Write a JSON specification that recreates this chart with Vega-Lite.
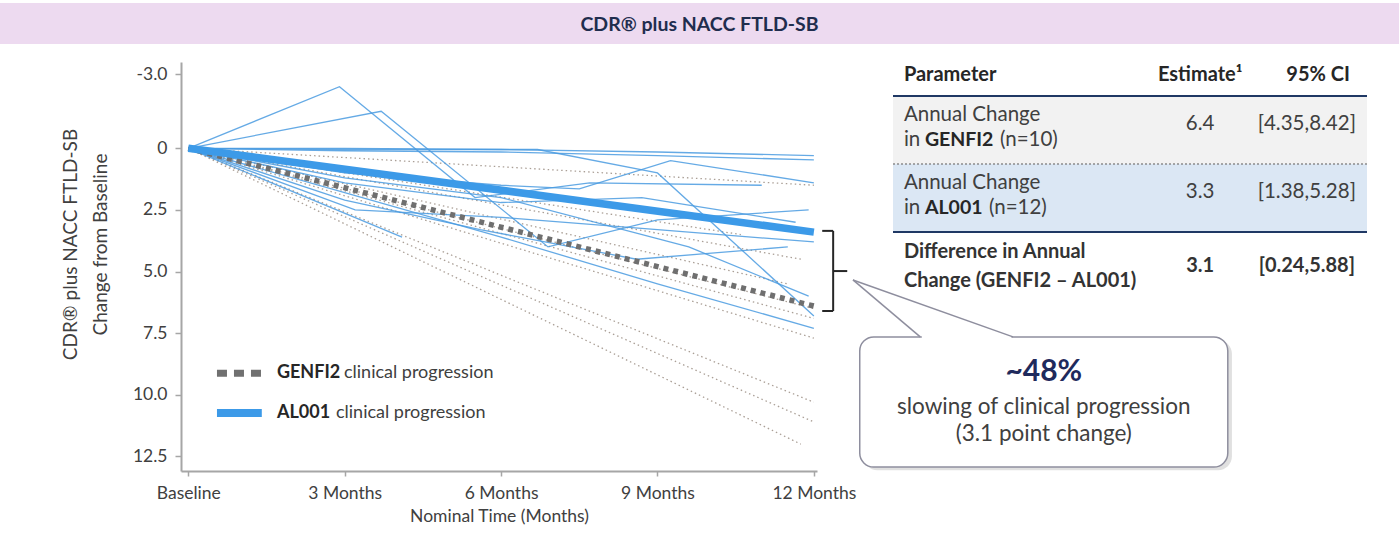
{
  "$schema": "https://vega.github.io/schema/vega-lite/v6.json",
  "background": "white",
  "padding": {"left": 0, "top": 3, "right": 0, "bottom": 0},
  "config": {"view": {"stroke": null}, "font": "Lato"},
  "datasets": {
    "series": [
      {"id": "g1", "group": "GENFI2 patient", "month": 0, "value": 0},
      {"id": "g1", "group": "GENFI2 patient", "month": 12, "value": 1.5},
      {"id": "g2", "group": "GENFI2 patient", "month": 0, "value": 0},
      {"id": "g2", "group": "GENFI2 patient", "month": 10.6, "value": 3.5},
      {"id": "g3", "group": "GENFI2 patient", "month": 0, "value": 0},
      {"id": "g3", "group": "GENFI2 patient", "month": 11.75, "value": 4.5},
      {"id": "g4", "group": "GENFI2 patient", "month": 0, "value": 0},
      {"id": "g4", "group": "GENFI2 patient", "month": 11.5, "value": 5.5},
      {"id": "g5", "group": "GENFI2 patient", "month": 0, "value": 0},
      {"id": "g5", "group": "GENFI2 patient", "month": 12, "value": 6.5},
      {"id": "g6", "group": "GENFI2 patient", "month": 0, "value": 0},
      {"id": "g6", "group": "GENFI2 patient", "month": 12, "value": 6.9},
      {"id": "g7", "group": "GENFI2 patient", "month": 0, "value": 0},
      {"id": "g7", "group": "GENFI2 patient", "month": 12, "value": 7.7},
      {"id": "g8", "group": "GENFI2 patient", "month": 0, "value": 0},
      {"id": "g8", "group": "GENFI2 patient", "month": 12, "value": 10.3},
      {"id": "g9", "group": "GENFI2 patient", "month": 0, "value": 0},
      {"id": "g9", "group": "GENFI2 patient", "month": 12, "value": 11.1},
      {"id": "g10", "group": "GENFI2 patient", "month": 0, "value": 0},
      {"id": "g10", "group": "GENFI2 patient", "month": 11.75, "value": 12.0},

      {"id": "a1", "group": "AL001 patient", "month": 0, "value": 0},
      {"id": "a1", "group": "AL001 patient", "month": 3, "value": 0},
      {"id": "a1", "group": "AL001 patient", "month": 6, "value": 0.05},
      {"id": "a1", "group": "AL001 patient", "month": 9, "value": 0.15},
      {"id": "a1", "group": "AL001 patient", "month": 12, "value": 0.3},
      {"id": "a2", "group": "AL001 patient", "month": 0, "value": 0},
      {"id": "a2", "group": "AL001 patient", "month": 3, "value": 0.05},
      {"id": "a2", "group": "AL001 patient", "month": 6.7, "value": 0.05},
      {"id": "a2", "group": "AL001 patient", "month": 9, "value": 1.0},
      {"id": "a2", "group": "AL001 patient", "month": 12, "value": 6.8},
      {"id": "a3", "group": "AL001 patient", "month": 0, "value": 0},
      {"id": "a3", "group": "AL001 patient", "month": 3, "value": 0.1},
      {"id": "a3", "group": "AL001 patient", "month": 6, "value": 0.15},
      {"id": "a3", "group": "AL001 patient", "month": 9, "value": 0.3},
      {"id": "a3", "group": "AL001 patient", "month": 12, "value": 0.47},
      {"id": "a4", "group": "AL001 patient", "month": 0, "value": 0},
      {"id": "a4", "group": "AL001 patient", "month": 2.9, "value": -2.5},
      {"id": "a4", "group": "AL001 patient", "month": 5.5, "value": 2.0},
      {"id": "a4", "group": "AL001 patient", "month": 7.7, "value": 1.4},
      {"id": "a4", "group": "AL001 patient", "month": 11, "value": 1.5},
      {"id": "a5", "group": "AL001 patient", "month": 0, "value": 0},
      {"id": "a5", "group": "AL001 patient", "month": 3.7, "value": -1.5},
      {"id": "a5", "group": "AL001 patient", "month": 6.9, "value": 4.0},
      {"id": "a5", "group": "AL001 patient", "month": 9, "value": 2.9},
      {"id": "a5", "group": "AL001 patient", "month": 11.9, "value": 2.5},
      {"id": "a6", "group": "AL001 patient", "month": 0, "value": 0},
      {"id": "a6", "group": "AL001 patient", "month": 3, "value": 1.0},
      {"id": "a6", "group": "AL001 patient", "month": 6, "value": 1.5},
      {"id": "a6", "group": "AL001 patient", "month": 7.5, "value": 1.65},
      {"id": "a6", "group": "AL001 patient", "month": 9.25, "value": 0.5},
      {"id": "a6", "group": "AL001 patient", "month": 12, "value": 1.4},
      {"id": "a7", "group": "AL001 patient", "month": 0, "value": 0},
      {"id": "a7", "group": "AL001 patient", "month": 3, "value": 1.4},
      {"id": "a7", "group": "AL001 patient", "month": 6, "value": 2.2},
      {"id": "a7", "group": "AL001 patient", "month": 8.7, "value": 2.0},
      {"id": "a7", "group": "AL001 patient", "month": 11.65, "value": 3.0},
      {"id": "a8", "group": "AL001 patient", "month": 0, "value": 0},
      {"id": "a8", "group": "AL001 patient", "month": 3, "value": 1.2},
      {"id": "a8", "group": "AL001 patient", "month": 6, "value": 2.0},
      {"id": "a8", "group": "AL001 patient", "month": 9.6, "value": 4.0},
      {"id": "a8", "group": "AL001 patient", "month": 11.9, "value": 6.0},
      {"id": "a9", "group": "AL001 patient", "month": 0, "value": 0},
      {"id": "a9", "group": "AL001 patient", "month": 3, "value": 2.1},
      {"id": "a9", "group": "AL001 patient", "month": 5.6, "value": 3.3},
      {"id": "a9", "group": "AL001 patient", "month": 8.6, "value": 4.5},
      {"id": "a9", "group": "AL001 patient", "month": 11.5, "value": 4.0},
      {"id": "a10", "group": "AL001 patient", "month": 0, "value": 0},
      {"id": "a10", "group": "AL001 patient", "month": 4.1, "value": 3.6},
      {"id": "a11", "group": "AL001 patient", "month": 0, "value": 0},
      {"id": "a11", "group": "AL001 patient", "month": 3, "value": 1.8},
      {"id": "a11", "group": "AL001 patient", "month": 6, "value": 3.6},
      {"id": "a11", "group": "AL001 patient", "month": 9, "value": 5.5},
      {"id": "a11", "group": "AL001 patient", "month": 12, "value": 7.3},
      {"id": "a12", "group": "AL001 patient", "month": 0, "value": 0},
      {"id": "a12", "group": "AL001 patient", "month": 3.2, "value": 2.5},
      {"id": "a12", "group": "AL001 patient", "month": 6, "value": 2.8},
      {"id": "a12", "group": "AL001 patient", "month": 9, "value": 3.3},
      {"id": "a12", "group": "AL001 patient", "month": 12, "value": 3.8},

      {"id": "gm", "group": "GENFI2 mean", "month": 0, "value": 0},
      {"id": "gm", "group": "GENFI2 mean", "month": 12, "value": 6.4},
      {"id": "am", "group": "AL001 mean", "month": 0, "value": 0},
      {"id": "am", "group": "AL001 mean", "month": 12, "value": 3.4}
    ],
    "table": [
      {"row": "GENFI2", "upper": "G1", "lower": "G2", "line1": "Annual Change", "pre": "in", "name": "GENFI2", "post": "(n=10)", "estimate": "6.4", "ci": "[4.35,8.42]"},
      {"row": "AL001", "upper": "A1", "lower": "A2", "line1": "Annual Change", "pre": "in", "name": "AL001", "post": "(n=12)", "estimate": "3.3", "ci": "[1.38,5.28]"},
      {"row": "Difference", "upper": "D1", "lower": "D2", "line1": "Difference in Annual", "line2": "Change (GENFI2 \u2013 AL001)", "estimate": "3.1", "ci": "[0.24,5.88]"}
    ]
  },
  "spacing": 18,
  "bounds": "flush",
  "vconcat": [
    {
      "width": 1399,
      "height": 41,
      "view": {"fill": "#eddaf0", "stroke": null},
      "data": {"values": [{"title": "CDR\u00ae plus NACC FTLD-SB"}]},
      "mark": {"type": "text", "fontSize": 19.5, "fontWeight": "bold", "color": "#1f2d4e", "baseline": "middle", "align": "center", "dy": 1},
      "encoding": {"text": {"field": "title"}}
    },
    {
      "spacing": 0,
      "bounds": "flush",
      "hconcat": [
        {"width": 181, "height": 10, "data": {"values": []}, "mark": "text"},
        {
          "width": 636,
          "height": 409,
          "layer": [
            {
              "data": {"name": "series"},
              "transform": [{"filter": "datum.group === 'GENFI2 patient'"}],
              "mark": {"type": "line", "color": "#aa9f96", "strokeWidth": 1.3, "strokeDash": [1.5, 3]},
              "encoding": {
                "x": {"field": "month", "type": "quantitative",
                  "scale": {"domain": [-0.14, 12.06], "nice": false, "zero": false},
                  "axis": {"values": [0, 3, 6, 9, 12], "labelExpr": "datum.value === 0 ? 'Baseline' : datum.value + ' Months'",
                    "title": "Nominal Time (Months)", "grid": false, "domainColor": "#a6a6a6", "domainWidth": 2,
                    "tickColor": "#a6a6a6", "tickSize": 5, "tickWidth": 1.5, "labelFontSize": 17.5, "labelColor": "#404040",
                    "labelPadding": 8, "labelFlush": false, "titleFontSize": 17.5, "titleFontWeight": "normal", "titleColor": "#404040", "titlePadding": 6}},
                "y": {"field": "value", "type": "quantitative",
                  "scale": {"domain": [-3.5, 13.09], "reverse": true, "nice": false, "zero": false},
                  "axis": {"values": [-3, 0, 2.5, 5, 7.5, 10, 12.5],
                    "labelExpr": "datum.value === 0 ? '0' : (datum.value < 0 ? '-' : '') + format(abs(datum.value), '.1f')",
                    "title": ["CDR\u00ae plus NACC FTLD-SB", "Change from Baseline"], "grid": false,
                    "domainColor": "#a6a6a6", "domainWidth": 2, "tickColor": "#a6a6a6", "tickSize": 6, "tickWidth": 1.5,
                    "labelFontSize": 17.5, "labelColor": "#404040", "labelPadding": 8, "minExtent": 48, "maxExtent": 48,
                    "titleFontSize": 19, "titleFontWeight": "normal", "titleColor": "#404040", "titlePadding": 23, "titleLineHeight": 30, "titleY": 182}},
                "detail": {"field": "id"}
              }
            },
            {
              "data": {"name": "series"},
              "transform": [{"filter": "datum.group === 'AL001 patient'"}],
              "mark": {"type": "line", "color": "#4a9be0", "strokeWidth": 1.3, "opacity": 0.85},
              "encoding": {
                "x": {"field": "month", "type": "quantitative"},
                "y": {"field": "value", "type": "quantitative"},
                "detail": {"field": "id"}
              }
            },
            {
              "data": {"name": "series"},
              "transform": [{"filter": "datum.group === 'GENFI2 mean'"}],
              "mark": {"type": "line", "color": "#6f6f6f", "strokeWidth": 5.5, "strokeDash": [5, 5], "strokeCap": "butt"},
              "encoding": {
                "x": {"field": "month", "type": "quantitative"},
                "y": {"field": "value", "type": "quantitative"}
              }
            },
            {
              "data": {"name": "series"},
              "transform": [{"filter": "datum.group === 'AL001 mean'"}],
              "mark": {"type": "line", "color": "#3c9ae8", "strokeWidth": 7.5, "strokeCap": "butt"},
              "encoding": {
                "x": {"field": "month", "type": "quantitative"},
                "y": {"field": "value", "type": "quantitative"}
              }
            },
            {
              "data": {"values": [{}]},
              "mark": {"type": "rule", "color": "#707070", "strokeWidth": 7, "strokeDash": [10, 7]},
              "encoding": {"x": {"datum": 0.55}, "x2": {"datum": 1.41}, "y": {"datum": 9.12}}
            },
            {
              "data": {"values": [{}]},
              "mark": {"type": "rule", "color": "#3c9ae8", "strokeWidth": 8},
              "encoding": {"x": {"datum": 0.55}, "x2": {"datum": 1.41}, "y": {"datum": 10.74}}
            },
            {
              "data": {"values": [{}]},
              "mark": {"type": "text", "text": "GENFI2", "fontWeight": "bold", "fontSize": 18, "color": "#262626", "align": "left", "baseline": "middle"},
              "encoding": {"x": {"datum": 1.70}, "y": {"datum": 9.12}}
            },
            {
              "data": {"values": [{}]},
              "mark": {"type": "text", "text": "clinical progression", "fontSize": 18, "color": "#404040", "align": "left", "baseline": "middle", "dx": 67},
              "encoding": {"x": {"datum": 1.70}, "y": {"datum": 9.12}}
            },
            {
              "data": {"values": [{}]},
              "mark": {"type": "text", "text": "AL001", "fontWeight": "bold", "fontSize": 18, "color": "#262626", "align": "left", "baseline": "middle"},
              "encoding": {"x": {"datum": 1.70}, "y": {"datum": 10.74}}
            },
            {
              "data": {"values": [{}]},
              "mark": {"type": "text", "text": "clinical progression", "fontSize": 18, "color": "#404040", "align": "left", "baseline": "middle", "dx": 59},
              "encoding": {"x": {"datum": 1.70}, "y": {"datum": 10.74}}
            },
            {
              "data": {"values": [{}]},
              "mark": {"type": "rule", "color": "#262626", "strokeWidth": 2, "clip": false},
              "encoding": {"x": {"datum": 12.37}, "y": {"datum": 3.35}, "y2": {"datum": 6.60}}
            },
            {
              "data": {"values": [{}]},
              "mark": {"type": "rule", "color": "#262626", "strokeWidth": 2, "clip": false},
              "encoding": {"x": {"datum": 12.16}, "x2": {"datum": 12.37}, "y": {"datum": 3.35}}
            },
            {
              "data": {"values": [{}]},
              "mark": {"type": "rule", "color": "#262626", "strokeWidth": 2, "clip": false},
              "encoding": {"x": {"datum": 12.16}, "x2": {"datum": 12.37}, "y": {"datum": 6.60}}
            },
            {
              "data": {"values": [{}]},
              "mark": {"type": "rule", "color": "#262626", "strokeWidth": 2, "clip": false},
              "encoding": {"x": {"datum": 12.37}, "x2": {"datum": 12.64}, "y": {"datum": 4.98}}
            },
            {
              "data": {"values": [{}]},
              "mark": {"type": "rect", "fill": "#000000", "opacity": 0.12, "cornerRadius": 14, "clip": false},
              "encoding": {"x": {"datum": 12.95}, "x2": {"datum": 20.02}, "y": {"datum": 7.78}, "y2": {"datum": 13.06}}
            },
            {
              "data": {"values": [{}]},
              "mark": {"type": "rect", "fill": "#ffffff", "stroke": "#8e8e9e", "strokeWidth": 1.5, "cornerRadius": 14, "clip": false},
              "encoding": {"x": {"datum": 12.88}, "x2": {"datum": 19.94}, "y": {"datum": 7.65}, "y2": {"datum": 12.93}}
            },
            {
              "data": {"values": [{}]},
              "mark": {"type": "rule", "color": "#ffffff", "strokeWidth": 3, "clip": false},
              "encoding": {"x": {"datum": 14.07}, "x2": {"datum": 15.79}, "y": {"datum": 7.65}}
            },
            {
              "data": {"values": [{}]},
              "mark": {"type": "rule", "color": "#8e8e9e", "strokeWidth": 1.5, "clip": false},
              "encoding": {"x": {"datum": 12.75}, "x2": {"datum": 14.04}, "y": {"datum": 5.34}, "y2": {"datum": 7.65}}
            },
            {
              "data": {"values": [{}]},
              "mark": {"type": "rule", "color": "#8e8e9e", "strokeWidth": 1.5, "clip": false},
              "encoding": {"x": {"datum": 12.75}, "x2": {"datum": 15.82}, "y": {"datum": 5.34}, "y2": {"datum": 7.65}}
            },
            {
              "data": {"values": [{}]},
              "mark": {"type": "text", "text": "~48%", "fontWeight": "bold", "fontSize": 30, "color": "#1f2a5c", "align": "center", "baseline": "middle", "clip": false},
              "encoding": {"x": {"datum": 16.41}, "y": {"datum": 9.07}}
            },
            {
              "data": {"values": [{}]},
              "mark": {"type": "text", "text": "slowing of clinical progression", "fontSize": 22.5, "color": "#404040", "align": "center", "baseline": "middle", "clip": false},
              "encoding": {"x": {"datum": 16.41}, "y": {"datum": 10.5}}
            },
            {
              "data": {"values": [{}]},
              "mark": {"type": "text", "text": "(3.1 point change)", "fontSize": 22.5, "color": "#404040", "align": "center", "baseline": "middle", "clip": false},
              "encoding": {"x": {"datum": 16.41}, "y": {"datum": 11.6}}
            }
          ]
        },
        {"width": 76, "height": 10, "data": {"values": []}, "mark": "text"},
        {
          "width": 474,
          "height": 238,
          "data": {"name": "table"},
          "layer": [
            {
              "transform": [{"filter": "datum.row !== 'Difference'"}],
              "mark": {"type": "rect"},
              "encoding": {
                "y": {"field": "upper", "type": "nominal", "scale": {"type": "band", "domain": ["H", "G1", "G2", "A1", "A2", "D1", "D2"], "paddingInner": 0, "paddingOuter": 0}, "axis": null},
                "fill": {"field": "row", "type": "nominal", "scale": {"domain": ["GENFI2", "AL001"], "range": ["#f2f2f2", "#dbe7f4"]}, "legend": null}
              }
            },
            {
              "transform": [{"filter": "datum.row !== 'Difference'"}],
              "mark": {"type": "rect"},
              "encoding": {
                "y": {"field": "lower", "type": "nominal", "axis": null},
                "fill": {"field": "row", "type": "nominal", "legend": null}
              }
            },
            {
              "transform": [{"filter": "datum.row !== 'AL001'"}],
              "mark": {"type": "rule", "color": "#1f3864", "strokeWidth": 2},
              "encoding": {"y": {"field": "upper", "type": "nominal", "bandPosition": 0, "axis": null}}
            },
            {
              "transform": [{"filter": "datum.row === 'AL001'"}],
              "mark": {"type": "rule", "color": "#8c8c8c", "strokeWidth": 1.5, "strokeDash": [2, 2]},
              "encoding": {"y": {"field": "upper", "type": "nominal", "bandPosition": 0, "axis": null}}
            },
            {
              "transform": [{"filter": "datum.row !== 'Difference'"}],
              "mark": {"type": "text", "fontSize": 20.5, "color": "#404040", "align": "left", "baseline": "middle", "dy": 2},
              "encoding": {
                "x": {"datum": 2.3, "scale": {"domain": [0, 100]}, "axis": null},
                "y": {"field": "upper", "type": "nominal", "axis": null},
                "text": {"field": "line1"}
              }
            },
            {
              "transform": [{"filter": "datum.row !== 'Difference'"}],
              "mark": {"type": "text", "fontSize": 20.5, "color": "#404040", "align": "left", "baseline": "middle", "dy": -7},
              "encoding": {
                "x": {"datum": 2.3, "axis": null},
                "y": {"field": "lower", "type": "nominal", "axis": null},
                "text": {"field": "pre"}
              }
            },
            {
              "transform": [{"filter": "datum.row !== 'Difference'"}],
              "mark": {"type": "text", "fontSize": 19.5, "fontWeight": "bold", "color": "#262626", "align": "left", "baseline": "middle", "dy": -7, "dx": 21},
              "encoding": {
                "x": {"datum": 2.3, "axis": null},
                "y": {"field": "lower", "type": "nominal", "axis": null},
                "text": {"field": "name"}
              }
            },
            {
              "transform": [{"filter": "datum.row === 'GENFI2'"}],
              "mark": {"type": "text", "fontSize": 20.5, "color": "#404040", "align": "left", "baseline": "middle", "dy": -7, "dx": 96},
              "encoding": {
                "x": {"datum": 2.3, "axis": null},
                "y": {"field": "lower", "type": "nominal", "axis": null},
                "text": {"field": "post"}
              }
            },
            {
              "transform": [{"filter": "datum.row === 'AL001'"}],
              "mark": {"type": "text", "fontSize": 20.5, "color": "#404040", "align": "left", "baseline": "middle", "dy": -7, "dx": 85},
              "encoding": {
                "x": {"datum": 2.3, "axis": null},
                "y": {"field": "lower", "type": "nominal", "axis": null},
                "text": {"field": "post"}
              }
            },
            {
              "transform": [{"filter": "datum.row !== 'Difference'"}],
              "mark": {"type": "text", "fontSize": 20.5, "color": "#404040", "align": "center", "baseline": "middle", "dy": -6},
              "encoding": {
                "x": {"datum": 64.8, "axis": null},
                "y": {"field": "lower", "type": "nominal", "bandPosition": 0, "axis": null},
                "text": {"field": "estimate"}
              }
            },
            {
              "transform": [{"filter": "datum.row !== 'Difference'"}],
              "mark": {"type": "text", "fontSize": 20.5, "color": "#404040", "align": "center", "baseline": "middle", "dy": -6},
              "encoding": {
                "x": {"datum": 87.3, "axis": null},
                "y": {"field": "lower", "type": "nominal", "bandPosition": 0, "axis": null},
                "text": {"field": "ci"}
              }
            },
            {
              "transform": [{"filter": "datum.row === 'Difference'"}],
              "mark": {"type": "text", "fontSize": 20, "fontWeight": "bold", "color": "#333333", "align": "left", "baseline": "middle", "dy": 3},
              "encoding": {
                "x": {"datum": 2.3, "axis": null},
                "y": {"field": "upper", "type": "nominal", "axis": null},
                "text": {"field": "line1"}
              }
            },
            {
              "transform": [{"filter": "datum.row === 'Difference'"}],
              "mark": {"type": "text", "fontSize": 20, "fontWeight": "bold", "color": "#333333", "align": "left", "baseline": "middle", "dy": -2},
              "encoding": {
                "x": {"datum": 2.3, "axis": null},
                "y": {"field": "lower", "type": "nominal", "axis": null},
                "text": {"field": "line2"}
              }
            },
            {
              "transform": [{"filter": "datum.row === 'Difference'"}],
              "mark": {"type": "text", "fontSize": 20, "fontWeight": "bold", "color": "#333333", "align": "center", "baseline": "middle"},
              "encoding": {
                "x": {"datum": 64.8, "axis": null},
                "y": {"field": "lower", "type": "nominal", "bandPosition": 0, "axis": null},
                "text": {"field": "estimate"}
              }
            },
            {
              "transform": [{"filter": "datum.row === 'Difference'"}],
              "mark": {"type": "text", "fontSize": 20, "fontWeight": "bold", "color": "#333333", "align": "center", "baseline": "middle"},
              "encoding": {
                "x": {"datum": 87.3, "axis": null},
                "y": {"field": "lower", "type": "nominal", "bandPosition": 0, "axis": null},
                "text": {"field": "ci"}
              }
            },
            {
              "data": {"values": [{}]},
              "mark": {"type": "text", "text": "Parameter", "fontSize": 20, "fontWeight": "bold", "color": "#262626", "align": "left", "baseline": "middle", "dy": -4},
              "encoding": {"x": {"datum": 2.3, "axis": null}, "y": {"datum": "H", "type": "nominal", "axis": null}}
            },
            {
              "data": {"values": [{}]},
              "mark": {"type": "text", "text": "Estimate\u00b9", "fontSize": 20, "fontWeight": "bold", "color": "#262626", "align": "center", "baseline": "middle", "dy": -4},
              "encoding": {"x": {"datum": 64.8, "axis": null}, "y": {"datum": "H", "type": "nominal", "axis": null}}
            },
            {
              "data": {"values": [{}]},
              "mark": {"type": "text", "text": "95% CI", "fontSize": 20, "fontWeight": "bold", "color": "#262626", "align": "center", "baseline": "middle", "dy": -4},
              "encoding": {"x": {"datum": 89.7, "axis": null}, "y": {"datum": "H", "type": "nominal", "axis": null}}
            }
          ]
        }
      ]
    }
  ]
}
